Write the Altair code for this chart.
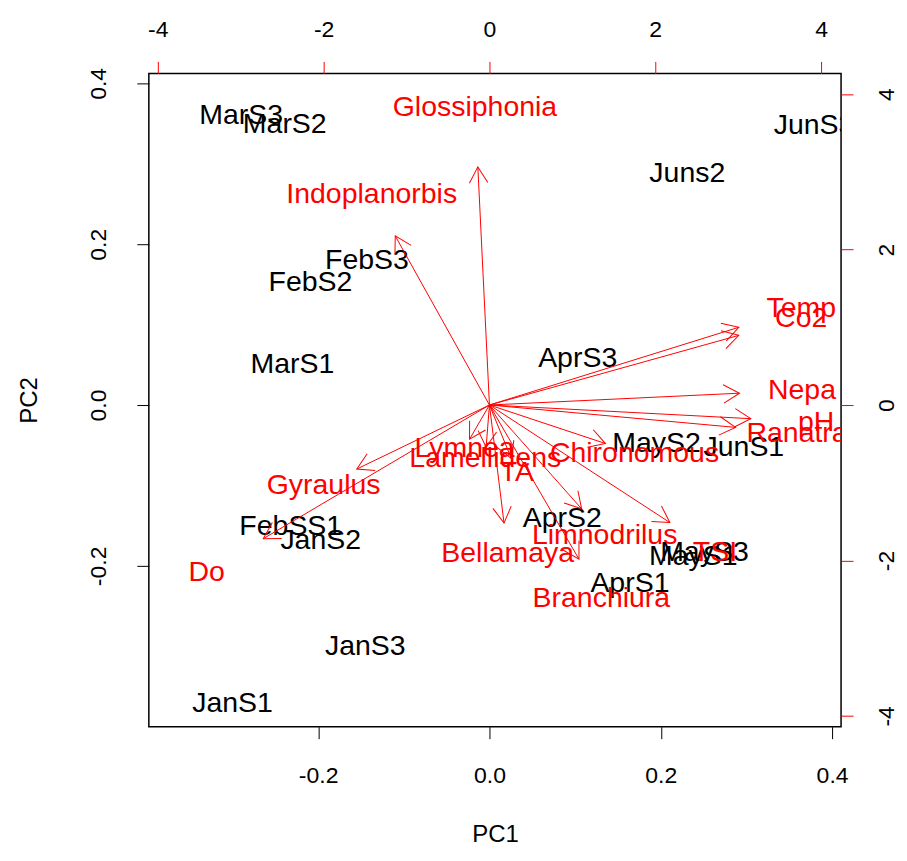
import altair as alt
import pandas as pd

# ---- sample scores (primary axes: PC1 / PC2) ----
samples = ["JanS1", "JanS2", "JanS3", "FebSS1", "FebS2", "FebS3",
           "MarS1", "MarS2", "MarS3", "AprS1", "AprS2", "AprS3",
           "MayS1", "MayS2", "MayS3", "JunS1", "Juns2", "JunS3"]
pc1 = [-0.300, -0.197, -0.145, -0.232, -0.209, -0.143,
       -0.230, -0.239, -0.290, 0.164, 0.085, 0.103,
       0.238, 0.195, 0.251, 0.297, 0.231, 0.379]
pc2 = [-0.370, -0.168, -0.300, -0.151, 0.153, 0.180,
       0.051, 0.350, 0.361, -0.221, -0.140, 0.058,
       -0.188, -0.047, -0.183, -0.052, 0.289, 0.348]

# ---- variable loadings (secondary axes: top / right) ----
variables = ["Glossiphonia", "Indoplanorbis", "Temp", "Co2", "Nepa", "pH",
             "Ranatra", "Chironomous", "Limnodrilus", "TSI", "Branchiura",
             "Bellamaya", "TA", "Lymnea", "Lamellidens", "Gyraulus", "Do"]
load1 = [-0.175, -1.42, 3.76, 3.76, 3.77, 3.94,
         3.71, 1.75, 1.39, 2.72, 1.35,
         0.22, 0.33, -0.30, -0.05, -2.00, -3.41]
load2 = [3.83, 2.72, 1.25, 1.12, 0.19, -0.22,
         -0.36, -0.62, -1.67, -1.89, -2.48,
         -1.90, -0.86, -0.55, -0.68, -1.03, -2.15]

x_ticks = [-0.2, 0.0, 0.2, 0.4]
y_ticks = [-0.2, 0.0, 0.2, 0.4]
x2_ticks = [-4, -2, 0, 2, 4]
y2_ticks = [-4, -2, 0, 2, 4]

X_DOM = [-0.3977, 0.4105]
Y_DOM = [-0.400, 0.4124]
X2_DOM = [-4.108, 4.241]
Y2_DOM = [-4.139, 4.267]
W, H = 693, 654
px_x2 = W / (X2_DOM[1] - X2_DOM[0])
px_y2 = H / (Y2_DOM[1] - Y2_DOM[0])

FONT = "Liberation Sans"
RED = "#FF0000"

df_s = pd.DataFrame({"name": samples, "PC1": pc1, "PC2": pc2})
df_v = pd.DataFrame({"var": variables, "L1": load1, "L2": load2})

xs = alt.Scale(domain=X_DOM, nice=False, zero=False)
ys = alt.Scale(domain=Y_DOM, nice=False, zero=False)
x2s = alt.Scale(domain=X2_DOM, nice=False, zero=False)
y2s = alt.Scale(domain=Y2_DOM, nice=False, zero=False)

common = dict(grid=False, domain=False, tickSize=12, labelFont=FONT,
              labelFontSize=23, labelColor="black")

lab1 = "datum.value < 0 ? '-' + format(-datum.value, '.1f') : format(datum.value, '.1f')"
lab0 = "datum.value < 0 ? '-' + format(-datum.value, 'd') : format(datum.value, 'd')"

ax_bottom = alt.Axis(orient="bottom", values=x_ticks, labelExpr=lab1,
                     tickColor="black", labelPadding=26,
                     title="PC1", titleFont=FONT, titleFontSize=24,
                     titleFontWeight="normal", titleColor="black",
                     titleY=108, titleBaseline="middle", **common)
ax_left = alt.Axis(orient="left", values=y_ticks, labelExpr=lab1,
                   tickColor="black", labelPadding=26, labelAngle=270,
                   labelAlign="center", labelBaseline="bottom",
                   title="PC2", titleFont=FONT, titleFontSize=24,
                   titleFontWeight="normal", titleColor="black",
                   titleX=-119, titleAngle=270, titleAlign="center",
                   titleBaseline="middle", **common)
ax_top = alt.Axis(orient="top", values=x2_ticks, labelExpr=lab0,
                  tickColor=RED, labelPadding=20, title=None, **common)
ax_right = alt.Axis(orient="right", values=y2_ticks, labelExpr=lab0,
                    tickColor=RED, labelPadding=22, labelAngle=270,
                    labelAlign="center", labelBaseline="top",
                    title=None, **common)

# sample labels
pts = alt.Chart(df_s).mark_text(
    font=FONT, fontSize=28.5, color="black", align="center",
    baseline="middle", clip=True
).encode(
    x=alt.X("PC1:Q", scale=xs, axis=ax_bottom),
    y=alt.Y("PC2:Q", scale=ys, axis=ax_left),
    text="name:N",
)

base_v = alt.Chart(df_v).transform_calculate(
    x0="0", y0="0",
    ax="0.8 * datum.L1", ay="0.8 * datum.L2",
    ang=f"(atan2(-datum.L2 * {px_y2}, datum.L1 * {px_x2}) * 180 / PI + 360) % 360",
)

shafts = base_v.mark_rule(color=RED, strokeWidth=1, clip=True).encode(
    x=alt.X("x0:Q", scale=x2s, axis=ax_top),
    y=alt.Y("y0:Q", scale=y2s, axis=ax_right),
    x2="ax:Q",
    y2="ay:Q",
)

heads = base_v.mark_point(
    shape="M -1 -0.577 L 0 0 L -1 0.577", filled=False, color=RED,
    strokeWidth=1, size=1024, opacity=1, clip=True
).encode(
    x=alt.X("ax:Q", scale=x2s, axis=ax_top),
    y=alt.Y("ay:Q", scale=y2s, axis=ax_right),
    angle=alt.Angle("ang:Q", scale=None),
)

vlabels = base_v.mark_text(
    font=FONT, fontSize=28.5, color=RED, align="center",
    baseline="middle", clip=True
).encode(
    x=alt.X("L1:Q", scale=x2s, axis=ax_top),
    y=alt.Y("L2:Q", scale=y2s, axis=ax_right),
    text="var:N",
)

loadings = alt.layer(shafts, heads, vlabels)

chart = alt.layer(pts, loadings).resolve_scale(
    x="independent", y="independent"
).properties(
    width=W, height=H,
    autosize=alt.AutoSizeParams(type="none"),
    padding={"left": 141, "top": 65, "right": 58, "bottom": 120},
    background="white",
).configure_view(stroke="black", strokeWidth=1.5)

chart.save("out.html", embed_options={"renderer": "svg", "actions": False})
